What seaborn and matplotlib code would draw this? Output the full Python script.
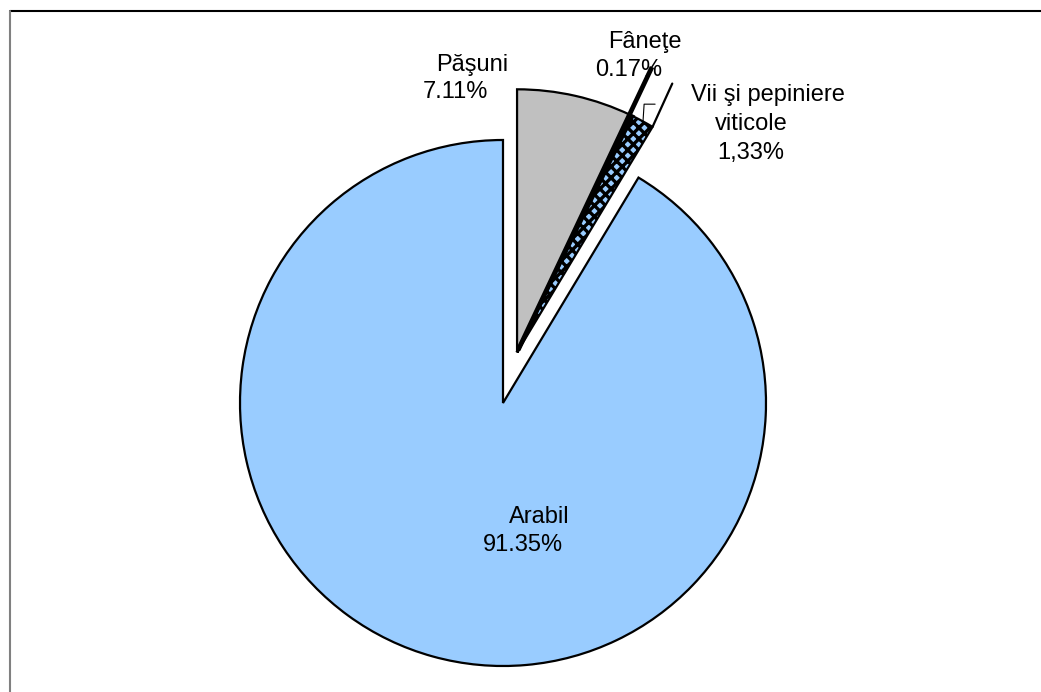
import numpy as np
import matplotlib
matplotlib.use("Agg")
import matplotlib.pyplot as plt
from matplotlib.lines import Line2D
import seaborn as sns

# Land use structure (share of agricultural area, %)
categories = ["Păşuni", "Fâneţe", "Vii şi pepiniere viticole", "Arabil"]
shares = [7.11, 0.17, 1.33, 91.35]
colors = ["#C0C0C0", "#000000", "#99CCFF", "#99CCFF"]
hatches = [None, None, "xxx", None]

sns.set_style("white")
plt.rcParams["font.family"] = ["Liberation Sans", "DejaVu Sans"]
plt.rcParams["hatch.linewidth"] = 2.4

W, H = 1041, 692
fig = plt.figure(figsize=(W / 100, H / 100), dpi=100)
ax = fig.add_axes([0, 0, 1, 1])


def Y(y):
    return H - y


cx, cy, R = 503, Y(403), 263
wedges, _ = ax.pie(shares, colors=colors, startangle=90, counterclock=False,
                   center=(cx, cy), radius=R,
                   wedgeprops=dict(edgecolor="black", linewidth=1.6))
for w, h in zip(wedges, hatches):
    if h:
        w.set_hatch(h)
wedges[1].set_linewidth(2.2)

# pull the three small slices out together along their common bisector
small = sum(shares[:3]) / 100 * 360
ang = np.deg2rad(90 - small / 2)
off = 0.2 * R
gx, gy = cx + off * np.cos(ang), cy + off * np.sin(ang)
for w in wedges[:3]:
    w.set_center((gx, gy))

ax.set_xlim(0, W)
ax.set_ylim(0, H)
ax.set_aspect("auto")
ax.axis("off")


def pol(center, r, deg):
    a = np.deg2rad(deg)
    return center[0] + r * np.cos(a), center[1] + r * np.sin(a)


# leader line for Fâneţe, running along the slice out to its label
wf = wedges[1]
mid_f = (wf.theta1 + wf.theta2) / 2
p0 = pol((gx, gy), 0.01 * R, mid_f + 0.6)
p1 = pol((gx, gy), 1.2 * R, mid_f + 0.6)
ax.plot([p0[0], p1[0]], [p0[1], p1[1]], color="black", lw=3.4, solid_capstyle="butt")

# outer edge of the vineyard slice, extended outwards
wv = wedges[2]
p0 = pol((gx, gy), R, wv.theta1)
p1 = pol((gx, gy), 1.18 * R, wv.theta1 + 1.0)
ax.plot([p0[0], p1[0]], [p0[1], p1[1]], color="black", lw=1.6)

# short hooked leader for the vineyard label
mid_v = (wv.theta1 + wv.theta2) / 2
q0 = pol((gx, gy), 1.0 * R, mid_v)
q1 = pol((gx, gy), 1.06 * R, mid_v + 1.5)
ax.plot([q0[0], q1[0], q1[0] + 11], [q0[1], q1[1], q1[1]], color="black", lw=0.8)

fs = 17
txt = dict(fontsize=fs, ha="center", va="baseline", color="black")
ax.text(472, Y(71), "Păşuni", **txt)
ax.text(455, Y(98), "7.11%", **txt)
ax.text(645, Y(48), "Fâneţe", **txt)
ax.text(629, Y(76), "0.17%", **txt)
ax.text(768, Y(101), "Vii şi pepiniere", **txt)
ax.text(751, Y(130), "viticole", **txt)
ax.text(751, Y(159), "1,33%", **txt)
ax.text(539, Y(523), "Arabil", **txt)
ax.text(523, Y(551), "91.35%", **txt)

# chart area border (top and left edges)
fig.add_artist(Line2D([10 / W, 1], [1 - 11 / H, 1 - 11 / H], color="black", lw=1.5))
fig.add_artist(Line2D([10 / W, 10 / W], [0, 1 - 11 / H], color="#808080", lw=1.5))

fig.savefig("out.png", dpi=100)
